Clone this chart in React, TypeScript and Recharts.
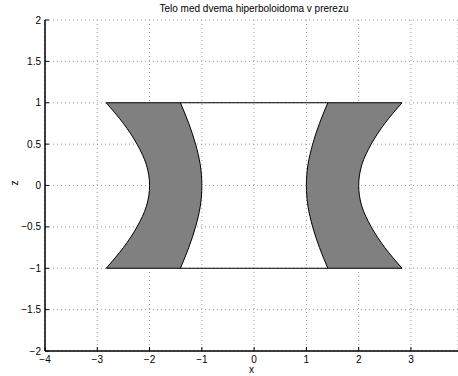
import React from 'react';
import { ComposedChart, Area, XAxis, YAxis, CartesianGrid, ReferenceLine } from 'recharts';

// z samples along the height of the body
const zValues = [-1, -0.75, -0.5, -0.25, 0, 0.25, 0.5, 0.75, 1];
const outerRadius = [2.83, 2.5, 2.24, 2.06, 2.0, 2.06, 2.24, 2.5, 2.83];
const innerRadius = [1.41, 1.25, 1.12, 1.03, 1.0, 1.03, 1.12, 1.25, 1.41];

const xTicks = [-4, -3, -2, -1, 0, 1, 2, 3];
const yTicks = [-2, -1.5, -1, -0.5, 0, 0.5, 1, 1.5, 2];

const chartData = zValues.map((z, i) => ({
  z,
  left: [-outerRadius[i], -innerRadius[i]],
  right: [innerRadius[i], outerRadius[i]],
}));

const edgeZ = [1, -1];
const edgeX = outerRadius[0];

const fmt = (v: number) => String(v).replace('-', '\u2212');
const font = '"Liberation Sans", Arial, sans-serif';

const App: React.FC = () => {
  return (
    <div style={{ position: 'absolute', left: 0, top: 0, width: 458, height: 376, background: '#fff', fontFamily: font }}>
      <div style={{ position: 'absolute', top: 3, left: 45, width: 418, textAlign: 'center', fontSize: 10, color: '#000' }}>
        Telo med dvema hiperboloidoma v prerezu
      </div>
      <ComposedChart
        width={458}
        height={376}
        data={chartData}
        layout="vertical"
        margin={{ top: 20, right: 0, bottom: 0, left: 8 }}
      >
        <CartesianGrid stroke="#999" strokeDasharray="1 3" />
        <XAxis
          type="number"
          domain={[-4, 3.9]}
          ticks={xTicks}
          allowDataOverflow
          height={25}
          tickSize={-4}
          tickMargin={9}
          tickFormatter={fmt}
          axisLine={{ stroke: '#000', strokeWidth: 1.5 }}
          tickLine={{ stroke: '#000' }}
          tick={{ fill: '#000', fontSize: 10, fontFamily: font }}
          label={{ value: 'x', position: 'insideBottom', offset: 3, fill: '#000', fontSize: 10, fontFamily: font }}
        />
        <XAxis
          xAxisId="top"
          orientation="top"
          type="number"
          domain={[-4, 3.9]}
          ticks={xTicks}
          allowDataOverflow
          height={0}
          tickSize={-4}
          tick={false}
          axisLine={{ stroke: '#000', strokeWidth: 1.5 }}
          tickLine={{ stroke: '#000' }}
        />
        <YAxis
          type="number"
          dataKey="z"
          domain={[-2, 2]}
          ticks={yTicks}
          reversed
          width={37}
          tickSize={-4}
          tickMargin={8}
          tickFormatter={fmt}
          axisLine={{ stroke: '#000', strokeWidth: 1.5 }}
          tickLine={{ stroke: '#000' }}
          tick={{ fill: '#000', fontSize: 10, fontFamily: font }}
          label={{ value: 'z', angle: -90, position: 'insideLeft', offset: 6, fill: '#000', fontSize: 10, fontFamily: font }}
        />
        {edgeZ.map((z) => (
          <ReferenceLine
            key={z}
            segment={[{ x: -edgeX, y: z }, { x: edgeX, y: z }]}
            stroke="#000"
            strokeWidth={1}
          />
        ))}
        <Area
          dataKey="left"
          type="monotoneY"
          fill="#808080"
          fillOpacity={1}
          stroke="#000"
          strokeWidth={1}
          isAnimationActive={false}
        />
        <Area
          dataKey="right"
          type="monotoneY"
          fill="#808080"
          fillOpacity={1}
          stroke="#000"
          strokeWidth={1}
          isAnimationActive={false}
        />
      </ComposedChart>
    </div>
  );
};

export default App;
